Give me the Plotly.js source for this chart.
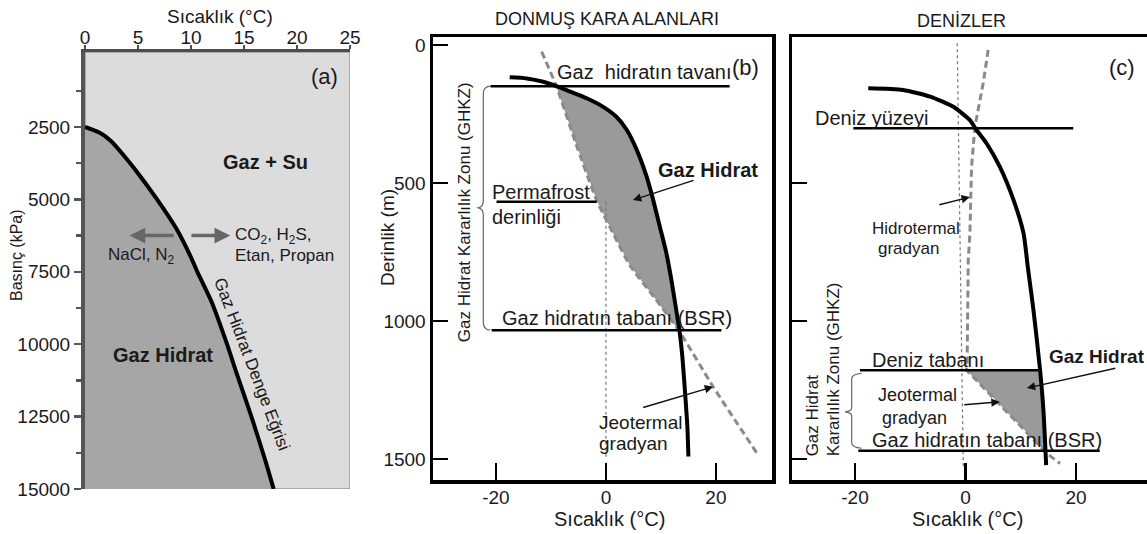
<!DOCTYPE html>
<html>
<head>
<meta charset="utf-8">
<script src="https://cdn.plot.ly/plotly-3.0.1.min.js"></script>
<style>html,body{margin:0;padding:0;background:#fff;}#chart{width:1147px;height:534px;}</style>
</head>
<body>
<div id="chart"></div>
<script>
// ---------- DATA ----------
// Panel (a): hydrate equilibrium curve, temperature (°C) vs pressure (kPa)
const aCurveT = [0, 1.4, 2.5, 3.7, 4.8, 6.8, 8.6, 10.0, 10.6, 11.9, 13.4, 14.3, 15.7, 17.0, 17.8];
const aCurveP = [2500, 2700, 3000, 3500, 4000, 5000, 6000, 7000, 7500, 8500, 10000, 11000, 12500, 14000, 15000];
const aTopTicks = [0, 5, 10, 15, 20, 25];
const aPressTicks = [2500, 5000, 7500, 10000, 12500, 15000];
const aPressLabels = ['2500', '5000', '7500', '10000', '12500', '15000'];
const aPressMinor = [1250, 3750, 6250, 8750, 11250, 13750];
// arrows in (a): [tailT, headT, P]
const aArrowLeft = [8.5, 4.2, 6250];
const aArrowRight = [9.9, 13.7, 6250];

// Panel (b): permafrost
const bCurveT = [-17.5, -14.4, -11.4, -9.0, -6.5, -3.5, -0.5, 1.9, 3.8, 5.6, 7.4, 8.6, 9.8, 11.0, 11.9, 12.7, 13.4, 13.9, 14.4, 14.8, 15.0];
const bCurveD = [117, 121, 133, 149, 169, 193, 224, 260, 308, 380, 477, 562, 658, 755, 851, 950, 1039, 1130, 1262, 1380, 1491];
const bGeoT = [-11.7, -9.0, -5.5, -1.7, 1.5, 4.4, 9.0, 13.4, 19.5, 27.7];
const bGeoD = [24, 150, 355, 562, 690, 800, 920, 1039, 1238, 1486];
const bZeroT = [0, 0];
const bZeroD = [568, 1500];
const bTopLineT = [-21, 22.5],   bTopLineD = [149, 149];
const bPermLineT = [-19.9, -1.7], bPermLineD = [568, 568];
const bBsrLineT = [-20.8, 21],   bBsrLineD = [1033, 1033];
const bZoneTop = 149, bZoneBottom = 1039;
const bxTicks = [-20, 0, 20];
const bxLabels = ['-20', '0', '20'];
const byTicks = [0, 500, 1000, 1500];
const byLabels = ['0', '500', '1000', '1500'];

// Panel (c): marine
const cCurveT = [-17.6, -11.3, -6.4, -2.2, 0.8, 2.0, 3.8, 6.2, 8.7, 10.5, 11.3, 12.3, 13.5, 14.1, 14.6];
const cCurveD = [157, 163, 187, 224, 272, 308, 356, 441, 562, 682, 808, 960, 1178, 1322, 1522];
const cGradT = [4.1, 3.2, 1.7, 1.1, 0.8, 0.5, 0.3, 0.2, 14.7, 17.1];
const cGradD = [18, 139, 296, 441, 682, 779, 1141, 1178, 1479, 1516];
const cZeroT = [-1.5, -0.4];
const cZeroD = [-6, 1528];
const cHydT = [0.2, 13.5, 14.1, 14.45, 14.27];
const cHydD = [1178, 1178, 1322, 1470, 1470];
const cSurfLineT = [-20.3, 19.5], cSurfLineD = [302, 302];
const cSeaLineT = [-19.1, 13.5],  cSeaLineD = [1178, 1178];
const cBsrLineT = [-19.4, 24.3],  cBsrLineD = [1470, 1470];
const cxTicks = [-20, 0, 20];
const cxLabels = ['-20', '0', '20'];
const cyTicks = [500, 1000, 1500];

// ---------- BUILD ----------
const W = 1147, H = 534;
const FONT = 'Liberation Sans, Arial, Helvetica, sans-serif';
const TXT = '#1a1a1a';
function px(x){ return x / W; }
function py(y){ return 1 - y / H; }

// hydrate polygon for (b), from the curve and the geothermal line between the zone limits
const bHydT = [], bHydD = [];
bCurveD.forEach((d, i) => { if (d >= bZoneTop && d <= bZoneBottom) { bHydT.push(bCurveT[i]); bHydD.push(d); } });
for (let i = bGeoD.length - 1; i >= 0; i--) {
  if (bGeoD[i] >= bZoneTop && bGeoD[i] <= bZoneBottom) { bHydT.push(bGeoT[i]); bHydD.push(bGeoD[i]); }
}

function line(x, y, xa, ya, color, width, dash, shape) {
  return {x: x, y: y, xaxis: xa, yaxis: ya, mode: 'lines', type: 'scatter',
          line: {color: color, width: width, dash: dash || 'solid', shape: shape || 'spline', smoothing: 0.6},
          hoverinfo: 'skip', showlegend: false};
}
function poly(x, y, xa, ya, color) {
  return {x: x, y: y, xaxis: xa, yaxis: ya, mode: 'lines', type: 'scatter', fill: 'toself',
          fillcolor: color, line: {width: 0, color: color}, hoverinfo: 'skip', showlegend: false};
}

const traces = [
  // (a)
  poly(aCurveT.concat([aCurveT[0]]), aCurveP.concat([aCurveP[aCurveP.length - 1]]), 'x', 'y', '#a6a6a6'),
  line(aCurveT, aCurveP, 'x', 'y', '#000', 4),
  // (b)
  poly(bHydT, bHydD, 'x2', 'y2', '#9a9a9a'),
  line(bZeroT, bZeroD, 'x2', 'y2', '#777', 1.2, 'dot'),
  line(bGeoT, bGeoD, 'x2', 'y2', '#8a8a8a', 3, '7px,4px'),
  line(bCurveT, bCurveD, 'x2', 'y2', '#000', 4),
  line(bTopLineT, bTopLineD, 'x2', 'y2', '#000', 2.5),
  line(bPermLineT, bPermLineD, 'x2', 'y2', '#000', 2.5),
  line(bBsrLineT, bBsrLineD, 'x2', 'y2', '#000', 2.5),
  // (c)
  poly(cHydT, cHydD, 'x3', 'y3', '#9a9a9a'),
  line(cZeroT, cZeroD, 'x3', 'y3', '#777', 1.2, 'dot'),
  line(cGradT, cGradD, 'x3', 'y3', '#8a8a8a', 3, '7px,4px', 'linear'),
  line(cCurveT, cCurveD, 'x3', 'y3', '#000', 4),
  line(cSurfLineT, cSurfLineD, 'x3', 'y3', '#000', 2.5),
  line(cSeaLineT, cSeaLineD, 'x3', 'y3', '#000', 2.5),
  line(cBsrLineT, cBsrLineD, 'x3', 'y3', '#000', 2.5)
];

const tickFont = {family: FONT, size: 19, color: TXT};

function ann(text, x, y, xref, yref, opts) {
  return Object.assign({text: text, x: x, y: y, xref: xref, yref: yref, showarrow: false,
    xanchor: 'center', yanchor: 'middle',
    font: {family: FONT, size: 20, color: TXT}}, opts || {});
}
function arrow(hx, hy, tx, ty, xa, ya, opts) {
  return Object.assign({text: '', x: hx, y: hy, ax: tx, ay: ty, xref: xa, yref: ya, axref: xa, ayref: ya,
    showarrow: true, arrowhead: 2, arrowsize: 1.2, arrowwidth: 1.4, arrowcolor: '#111'}, opts || {});
}

const annotations = [
  // (a)
  ann('Sıcaklık (°C)', px(220), py(17), 'paper', 'paper', {font: {family: FONT, size: 19, color: TXT}}),
  ann('Basınç (kPa)', px(17), py(255), 'paper', 'paper', {textangle: -90, font: {family: FONT, size: 16, color: TXT}}),
  ann('(a)', 22.6, 773, 'x', 'y', {font: {family: FONT, size: 22, color: TXT}}),
  ann('<b>Gaz + Su</b>', 17.0, 3700, 'x', 'y', {font: {family: FONT, size: 20, color: TXT}}),
  ann('<b>Gaz Hidrat</b>', 7.4, 10370, 'x', 'y', {font: {family: FONT, size: 20, color: TXT}}),
  ann('NaCl, N<sub>2</sub>', 5.3, 6950, 'x', 'y', {font: {family: FONT, size: 17, color: TXT}}),
  ann('CO<sub>2</sub>, H<sub>2</sub>S,', 14.0, 6250, 'x', 'y', {xanchor: 'left', font: {family: FONT, size: 17, color: TXT}}),
  ann('Etan, Propan', 14.0, 6950, 'x', 'y', {xanchor: 'left', font: {family: FONT, size: 17, color: TXT}}),
  ann('Gaz Hidrat Denge Eğrisi', 15.75, 10700, 'x', 'y', {textangle: 69, font: {family: FONT, size: 17, color: TXT}}),
  arrow(aArrowLeft[1], aArrowLeft[2], aArrowLeft[0], aArrowLeft[2], 'x', 'y', {arrowcolor: '#666', arrowwidth: 3.5, arrowsize: 0.9}),
  arrow(aArrowRight[1], aArrowRight[2], aArrowRight[0], aArrowRight[2], 'x', 'y', {arrowcolor: '#666', arrowwidth: 3.5, arrowsize: 0.9}),
  // (b)
  ann('DONMUŞ KARA ALANLARI', px(607), py(19), 'paper', 'paper', {font: {family: FONT, size: 18, color: TXT}}),
  ann('Derinlik (m)', px(387), py(238), 'paper', 'paper', {textangle: -90, font: {family: FONT, size: 19, color: TXT}}),
  ann('Sıcaklık (°C)', px(609), py(519), 'paper', 'paper', {font: {family: FONT, size: 20, color: TXT}}),
  ann('Gaz&nbsp; hidratın tavanı', -9.3, 98, 'x2', 'y2', {xanchor: 'left'}),
  ann('(b)', 25.3, 80, 'x2', 'y2', {font: {family: FONT, size: 22, color: TXT}}),
  ann('<b>Gaz Hidrat</b>', 18.5, 453, 'x2', 'y2'),
  ann('Permafrost', -21.1, 533, 'x2', 'y2', {xanchor: 'left'}),
  ann('derinliği', -21.1, 623, 'x2', 'y2', {xanchor: 'left'}),
  ann('Gaz hidratın tabanı (BSR)', -19.3, 989, 'x2', 'y2', {xanchor: 'left'}),
  ann('Jeotermal', -1.6, 1366, 'x2', 'y2', {xanchor: 'left', font: {family: FONT, size: 19, color: TXT}}),
  ann('gradyan', -1.6, 1442, 'x2', 'y2', {xanchor: 'left', font: {family: FONT, size: 19, color: TXT}}),
  ann('Gaz Hidrat Kararlılık Zonu (GHKZ)', -25.6, 605, 'x2', 'y2', {textangle: -90, font: {family: FONT, size: 17, color: TXT}}),
  arrow(4.9, 562, 16.2, 489, 'x2', 'y2'),
  arrow(19.5, 1238, 6.5, 1315, 'x2', 'y2'),
  // (c)
  ann('DENİZLER', px(961), py(21), 'paper', 'paper', {font: {family: FONT, size: 18, color: TXT}}),
  ann('Sıcaklık (°C)', px(968), py(519), 'paper', 'paper', {font: {family: FONT, size: 20, color: TXT}}),
  ann('(c)', 28.3, 83, 'x3', 'y3', {font: {family: FONT, size: 22, color: TXT}}),
  ann('Deniz yüzeyi', -27.6, 264, 'x3', 'y3', {xanchor: 'left'}),
  ann('Hidrotermal', -9.0, 664, 'x3', 'y3', {font: {family: FONT, size: 17, color: TXT}}),
  ann('gradyan', -10.4, 738, 'x3', 'y3', {font: {family: FONT, size: 17, color: TXT}}),
  ann('Deniz tabanı', -17.3, 1141, 'x3', 'y3', {xanchor: 'left'}),
  ann('<b>Gaz Hidrat</b>', 14.8, 1130, 'x3', 'y3', {xanchor: 'left', font: {family: FONT, size: 19, color: TXT}}),
  ann('Jeotermal', -8.6, 1268, 'x3', 'y3', {font: {family: FONT, size: 18, color: TXT}}),
  ann('gradyan', -9.3, 1351, 'x3', 'y3', {font: {family: FONT, size: 18, color: TXT}}),
  ann('Gaz hidratın tabanı (BSR)', -17.3, 1431, 'x3', 'y3', {xanchor: 'left'}),
  ann('Gaz Hidrat', -27.7, 1496, 'x3', 'y3', {textangle: -90, yanchor: 'bottom', font: {family: FONT, size: 17, color: TXT}}),
  ann('Kararlılık Zonu (GHKZ)', -23.9, 1496, 'x3', 'y3', {textangle: -90, yanchor: 'bottom', font: {family: FONT, size: 17, color: TXT}}),
  arrow(0.8, 551, -5.0, 580, 'x3', 'y3'),
  arrow(11.1, 1243, 27.4, 1170, 'x3', 'y3'),
  arrow(6.2, 1293, -0.5, 1304, 'x3', 'y3')
];

const shapes = [
  {type: 'rect', xref: 'x', yref: 'y', x0: 0, x1: 25, y0: -90, y1: 15000, layer: 'below',
   fillcolor: '#dcdcdc', line: {color: '#9a9a9a', width: 1.5}},
  {type: 'path', xref: 'x2', yref: 'y2', layer: 'above', line: {color: '#666', width: 1.2},
   path: 'M -21.1,149 Q -22.3,152 -22.3,175 L -22.3,565 Q -22.3,585 -23.2,590 Q -22.3,595 -22.3,615 L -22.3,1005 Q -22.3,1030 -21.1,1033'},
  {type: 'path', xref: 'x3', yref: 'y3', layer: 'above', line: {color: '#666', width: 1.2},
   path: 'M -18.8,1190 Q -20.6,1193 -20.6,1210 L -20.6,1315 Q -20.6,1326 -21.8,1329 Q -20.6,1332 -20.6,1343 L -20.6,1440 Q -20.6,1458 -18.8,1461'}
];

const layout = {
  width: W, height: H,
  margin: {l: 0, r: 0, t: 0, b: 0},
  paper_bgcolor: '#ffffff', plot_bgcolor: 'rgba(0,0,0,0)',
  font: {family: FONT, color: TXT},
  showlegend: false, hovermode: false,
  xaxis: {domain: [px(85), px(350)], range: [0, 25], side: 'top', anchor: 'y',
          tickvals: aTopTicks, ticks: 'outside', ticklen: 4, tickwidth: 2, tickcolor: '#4d4d4d',
          showline: true, linecolor: '#4d4d4d', linewidth: 3, showgrid: false, zeroline: false,
          tickfont: tickFont, ticklabelstandoff: -7},
  yaxis: {domain: [py(489), py(52)], range: [15000, -90], anchor: 'x',
          tickvals: aPressTicks, ticktext: aPressLabels, ticks: 'outside', ticklen: 7, tickwidth: 2.5, tickcolor: '#555',
          minor: {tickvals: aPressMinor, ticks: 'outside', ticklen: 5, tickwidth: 2.5, tickcolor: '#555'},
          showline: true, linecolor: '#555', linewidth: 4, showgrid: false, zeroline: false,
          tickfont: tickFont},
  xaxis2: {domain: [px(433), px(772)], range: [-31.45, 30.2], anchor: 'y2',
           tickvals: bxTicks, ticktext: bxLabels, ticks: 'inside', ticklen: 17, tickwidth: 2.5, tickcolor: '#000',
           showline: true, mirror: true, linecolor: '#000', linewidth: 3.5, showgrid: false, zeroline: false,
           tickfont: tickFont, ticklabelstandoff: -2},
  yaxis2: {domain: [py(480), py(37)], range: [1576, -29], anchor: 'x2',
           tickvals: byTicks, ticktext: byLabels, ticks: 'inside', ticklen: 15, tickwidth: 2.5, tickcolor: '#000',
           showline: true, mirror: true, linecolor: '#000', linewidth: 3.5, showgrid: false, zeroline: false,
           tickfont: tickFont},
  xaxis3: {domain: [px(792), 1], range: [-31.4, 32.85], anchor: 'y3',
           tickvals: cxTicks, ticktext: cxLabels, ticks: 'inside', ticklen: 17, tickwidth: 2.5, tickcolor: '#000',
           showline: true, mirror: true, linecolor: '#000', linewidth: 3.5, showgrid: false, zeroline: false,
           tickfont: tickFont, ticklabelstandoff: -2},
  yaxis3: {domain: [py(480), py(37)], range: [1576, -29], anchor: 'x3',
           tickvals: cyTicks, ticks: 'inside', ticklen: 15, tickwidth: 2.5, tickcolor: '#000',
           showticklabels: false,
           showline: true, mirror: false, linecolor: '#000', linewidth: 3.5, showgrid: false, zeroline: false},
  annotations: annotations,
  shapes: shapes
};

Plotly.newPlot('chart', traces, layout, {staticPlot: true, displayModeBar: false});
</script>
</body>
</html>
